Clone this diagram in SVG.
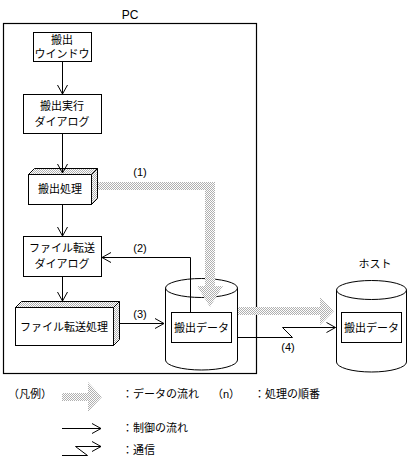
<svg xmlns="http://www.w3.org/2000/svg" width="410" height="464" viewBox="0 0 410 464">
<defs>
<pattern id="dots" width="2" height="2" patternUnits="userSpaceOnUse">
<rect width="2" height="2" fill="#ffffff"/>
<rect width="1" height="1" fill="#b0b0b0"/>
<rect x="1" y="1" width="1" height="1" fill="#b0b0b0"/>
</pattern>
<marker id="arr" markerUnits="userSpaceOnUse" markerWidth="12" markerHeight="12" refX="9" refY="5" orient="auto" overflow="visible">
<path d="M0,0 L9,5 L0,10" fill="none" stroke="#000" stroke-width="1"/>
</marker>
</defs>
<style>
text{font-family:"Liberation Sans","Noto Sans CJK JP",sans-serif;font-size:11px;fill:#000}
.c{text-anchor:middle}
.box{fill:#fff;stroke:#000;stroke-width:1}
.face{fill:url(#dots);stroke:#000;stroke-width:1}
.line{fill:none;stroke:#000;stroke-width:1}
.flow{fill:url(#dots);stroke:none}
</style>
<rect width="410" height="464" fill="#fff"/>

<g id="pc">
<rect x="3.5" y="23.5" width="253" height="350" fill="none" stroke="#000" stroke-width="1.2"/>
<text x="130" y="19" class="c" style="font-size:12px">PC</text>
</g>

<g id="export-window">
<rect class="box" x="33.5" y="32.5" width="58" height="29"/>
<text x="62" y="44" class="c">搬出</text>
<text x="62" y="58" class="c">ウインドウ</text>
</g>

<g id="export-dialog">
<rect class="box" x="23.5" y="94.5" width="78" height="39"/>
<text x="62" y="110" class="c">搬出実行</text>
<text x="62" y="126" class="c">ダイアログ</text>
</g>

<g id="export-process">
<rect class="box" x="28.5" y="174.5" width="63" height="30"/>
<polygon class="face" points="28.5,174.5 34.5,168.5 97.5,168.5 91.5,174.5"/>
<polygon class="face" points="91.5,174.5 97.5,168.5 97.5,198.5 91.5,204.5"/>
<text x="60" y="193" class="c">搬出処理</text>
</g>

<g id="transfer-dialog">
<rect class="box" x="23.5" y="236.5" width="78" height="40"/>
<text x="62" y="252" class="c">ファイル転送</text>
<text x="62" y="268" class="c">ダイアログ</text>
</g>

<g id="transfer-process">
<rect class="box" x="15.5" y="307.5" width="98" height="38"/>
<polygon class="face" points="15.5,307.5 21.5,301.5 119.5,301.5 113.5,307.5"/>
<polygon class="face" points="113.5,307.5 119.5,301.5 119.5,339.5 113.5,345.5"/>
<text x="64" y="331" class="c">ファイル転送処理</text>
</g>

<g id="pc-data">
<path class="box" d="M165.5,288 L165.5,360 A36,10 0 0 0 237.5,360 L237.5,288"/>
<ellipse class="box" cx="201.5" cy="288" rx="36" ry="9.5"/>
<rect class="box" x="171.5" y="312.5" width="60" height="30"/>
<text x="201.5" y="332" class="c">搬出データ</text>
</g>

<g id="host">
<text x="375" y="268" class="c">ホスト</text>
</g>

<g id="host-data">
<path class="box" d="M336.5,290 L336.5,362 A35,10 0 0 0 406.5,362 L406.5,290"/>
<ellipse class="box" cx="371.5" cy="290" rx="35" ry="9.5"/>
<rect class="box" x="341.5" y="312.5" width="60" height="30"/>
<text x="371.5" y="332" class="c">搬出データ</text>
</g>

<g id="connectors">
<line class="line" x1="62.5" y1="61.5" x2="62.5" y2="94" marker-end="url(#arr)"/>
<line class="line" x1="62.5" y1="133.5" x2="62.5" y2="173" marker-end="url(#arr)"/>
<line class="line" x1="62.5" y1="204.5" x2="62.5" y2="236" marker-end="url(#arr)"/>
<line class="line" x1="62.5" y1="276.5" x2="62.5" y2="301" marker-end="url(#arr)"/>
<polyline class="line" points="190.5,312.5 190.5,257.5 102,257.5" marker-end="url(#arr)"/>
<line class="line" x1="119.5" y1="323.5" x2="164" y2="323.5" marker-end="url(#arr)"/>
<polyline class="line" points="237.5,337.5 292.5,337.5 282.5,327.5 335.5,327.5" marker-end="url(#arr)"/>
<polygon class="flow" points="98,182 215,182 215,286 223,286 210,307 197,286 205,286 205,190 98,190"/>
<polygon class="flow" points="238,307 320,307 320,297 334,311 320,325 320,315 238,315"/>
<text x="140" y="176" class="c">(1)</text>
<text x="140" y="252" class="c">(2)</text>
<text x="140" y="318" class="c">(3)</text>
<text x="288" y="351" class="c">(4)</text>
</g>

<g id="legend">
<text x="8" y="398">（凡例）</text>
<polygon class="flow" points="62,393 88,393 88,382 102,397 88,412 88,401 62,401"/>
<text x="122" y="398">：データの流れ</text>
<text x="212" y="398">（n）</text>
<text x="254" y="398">：処理の順番</text>
<line class="line" x1="62" y1="428.5" x2="101" y2="428.5" marker-end="url(#arr)"/>
<text x="122" y="432">：制御の流れ</text>
<polyline class="line" points="62,455.5 87.5,455.5 75.5,446.5 101,446.5" marker-end="url(#arr)"/>
<text x="122" y="454">：通信</text>
</g>
</svg>
